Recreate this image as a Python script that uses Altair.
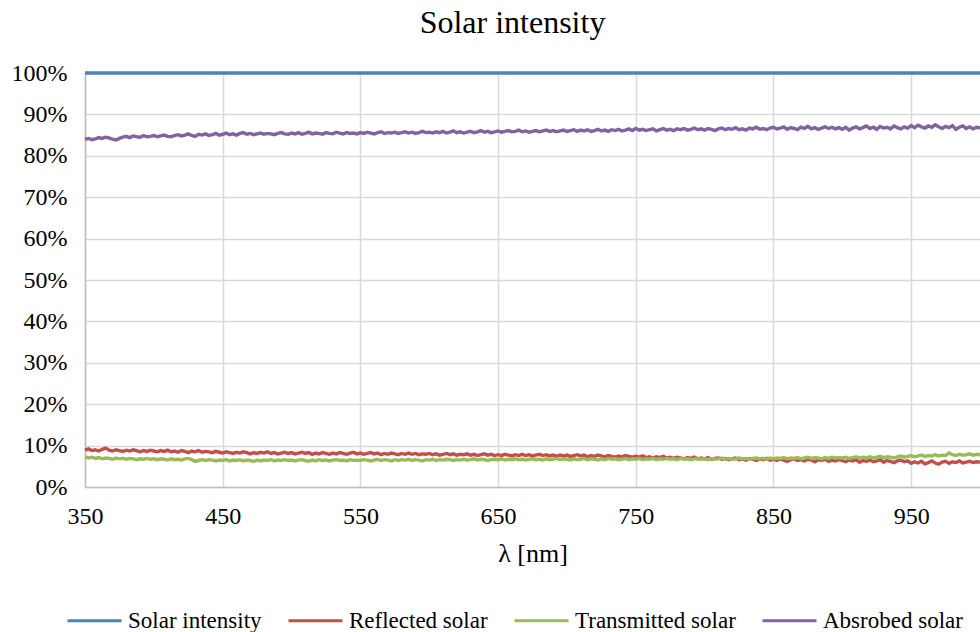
import altair as alt
import pandas as pd

# ---------------- data (every 2.5 nm) ----------------
wavelength = [350 + 2.5 * i for i in range(261)]

solar = [100.0] * len(wavelength)

reflected = [
    8.9, 9.2, 8.8, 9.0, 8.7, 9.1, 9.4, 8.9, 8.7, 9.0, 8.8, 8.6, 8.9, 8.7, 9.0, 8.8, 8.5, 8.8, 8.6, 8.9,
    8.7, 8.5, 8.8, 8.6, 8.9, 8.5, 8.7, 8.4, 8.8, 8.6, 8.3, 8.7, 8.5, 8.8, 8.4, 8.6, 8.5, 8.3, 8.6, 8.4,
    8.2, 8.5, 8.3, 8.1, 8.4, 8.2, 8.5, 8.3, 8.0, 8.3, 8.1, 8.4, 8.2, 8.5, 8.1, 8.3, 8.0, 8.2, 8.4, 8.1,
    8.3, 8.0, 8.2, 8.4, 8.1, 8.3, 7.9, 8.2, 8.0, 8.3, 8.1, 7.9, 8.2, 8.0, 8.3, 8.1, 7.9, 8.2, 8.4, 8.0,
    8.2, 7.9, 8.1, 8.3, 8.0, 8.2, 7.8, 8.1, 7.9, 8.2, 8.0, 7.8, 8.1, 7.9, 8.2, 7.9, 8.1, 7.8, 8.0, 7.9,
    8.1, 7.8, 8.0, 7.7, 7.9, 8.1, 7.8, 8.0, 7.7, 7.9, 7.8, 8.0, 7.7, 7.9, 7.6, 7.8, 8.0, 7.7, 7.9, 7.6,
    7.8, 7.6, 7.9, 7.7, 7.5, 7.8, 7.6, 7.9, 7.6, 7.8, 7.5, 7.7, 7.9, 7.6, 7.8, 7.5, 7.7, 7.4, 7.7, 7.5,
    7.7, 7.4, 7.6, 7.8, 7.5, 7.7, 7.3, 7.6, 7.4, 7.7, 7.5, 7.3, 7.6, 7.4, 7.2, 7.5, 7.3, 7.6, 7.4, 7.2,
    7.4, 7.2, 7.5, 7.1, 7.3, 7.0, 7.3, 7.1, 7.4, 7.0, 7.2, 6.9, 7.2, 7.0, 6.8, 7.1, 6.9, 7.2, 6.8, 7.0,
    6.8, 7.1, 6.7, 6.9, 7.0, 6.7, 6.9, 6.6, 6.8, 7.0, 6.6, 6.8, 6.5, 6.9, 6.7, 6.4, 6.8, 6.6, 6.9, 6.5,
    6.7, 6.4, 6.8, 6.5, 6.2, 6.6, 6.8, 6.4, 6.6, 6.3, 6.7, 6.5, 6.1, 6.6, 6.4, 6.7, 6.2, 6.5, 6.3, 6.6,
    6.4, 6.1, 6.5, 6.3, 6.6, 6.0, 6.4, 6.2, 6.5, 6.1, 6.3, 6.6, 6.0, 6.4, 6.2, 5.9, 6.3, 6.5, 6.1, 6.3,
    5.7, 6.1, 5.8, 6.2, 5.6, 5.9, 6.3, 5.8, 5.5, 6.0, 6.2, 5.7, 6.1, 5.9, 6.3, 5.8, 6.0, 6.2, 5.9, 6.1,
    6.0,
]

transmitted = [
    7.3, 7.0, 7.2, 6.9, 7.1, 6.8, 7.0, 6.9, 6.7, 7.0, 6.8, 6.9, 6.7, 6.9, 6.8, 6.6, 6.8, 6.7, 6.9, 6.7,
    6.8, 6.6, 6.8, 6.7, 6.5, 6.8, 6.6, 6.7, 6.5, 6.8, 6.9, 6.6, 6.2, 6.4, 6.6, 6.4, 6.6, 6.5, 6.3, 6.5,
    6.4, 6.6, 6.3, 6.5, 6.4, 6.6, 6.3, 6.5, 6.4, 6.2, 6.5, 6.3, 6.5, 6.4, 6.6, 6.3, 6.5, 6.4, 6.6, 6.4,
    6.5, 6.3, 6.5, 6.6, 6.4, 6.2, 6.5, 6.3, 6.6, 6.4, 6.5, 6.3, 6.5, 6.6, 6.4, 6.5, 6.3, 6.6, 6.4, 6.5,
    6.4, 6.6, 6.5, 6.3, 6.5, 6.7, 6.4, 6.6, 6.5, 6.3, 6.6, 6.4, 6.6, 6.5, 6.7, 6.4, 6.6, 6.5, 6.3, 6.6,
    6.5, 6.7, 6.4, 6.6, 6.5, 6.7, 6.6, 6.4, 6.6, 6.5, 6.7, 6.5, 6.6, 6.8, 6.5, 6.7, 6.6, 6.4, 6.6, 6.7,
    6.6, 6.8, 6.5, 6.7, 6.6, 6.8, 6.6, 6.7, 6.5, 6.7, 6.8, 6.6, 6.7, 6.5, 6.8, 6.6, 6.7, 6.9, 6.6, 6.8,
    6.7, 6.5, 6.8, 6.6, 6.7, 6.9, 6.6, 6.8, 6.7, 6.5, 6.8, 6.6, 6.9, 6.7, 6.8, 6.6, 6.7, 6.9, 6.6, 6.8,
    6.7, 6.9, 6.6, 6.8, 6.7, 6.9, 6.6, 6.8, 6.7, 6.9, 6.7, 6.8, 6.6, 6.9, 6.7, 6.8, 6.6, 6.8, 6.9, 6.7,
    6.8, 6.6, 6.9, 6.7, 6.8, 7.0, 6.7, 6.9, 6.7, 6.8, 7.0, 6.8, 6.9, 6.7, 6.9, 7.0, 6.8, 6.9, 6.7, 7.0,
    6.8, 7.0, 6.9, 7.1, 6.8, 7.0, 6.9, 7.1, 6.8, 7.0, 7.2, 6.9, 7.1, 7.0, 6.8, 7.1, 6.9, 7.2, 7.0, 7.1,
    7.0, 7.2, 6.9, 7.1, 7.3, 7.0, 7.2, 7.1, 7.3, 7.0, 7.2, 7.4, 7.1, 7.3, 7.2, 7.0, 7.3, 7.5, 7.2, 7.4,
    7.6, 7.3, 7.5, 7.7, 7.4, 7.6, 7.5, 7.8, 7.5, 7.7, 7.6, 8.2, 7.8, 7.6, 7.9, 7.7, 7.8, 8.0, 7.7, 7.9,
    7.8,
]

absorbed = [
    84.0, 84.2, 83.9, 84.1, 84.4, 84.2, 84.5, 84.3, 84.0, 83.8, 84.2, 84.5, 84.7, 84.4, 84.8, 84.6, 84.5, 84.9, 84.6, 84.7,
    84.9, 84.6, 84.8, 85.0, 84.7, 84.6, 84.9, 85.1, 84.8, 85.0, 85.3, 84.9, 84.7, 85.2, 85.0, 85.3, 84.9, 85.1, 85.4, 85.0,
    85.2, 85.5, 85.1, 85.3, 85.0, 85.4, 85.6, 85.2, 85.4, 85.1, 85.3, 85.5, 85.2, 85.4, 85.3, 85.1, 85.4, 85.6, 85.3, 85.2,
    85.5, 85.3, 85.6, 85.2, 85.4, 85.7, 85.3, 85.5, 85.4, 85.2, 85.6, 85.4, 85.3, 85.7, 85.5, 85.3, 85.6, 85.4, 85.5, 85.3,
    85.6, 85.4, 85.7, 85.5, 85.3, 85.6, 85.8, 85.4, 85.6, 85.5, 85.7, 85.4, 85.6, 85.8, 85.5, 85.7, 85.4, 85.6, 85.9, 85.6,
    85.7, 85.5, 85.8, 85.6, 85.9, 85.5, 85.7, 86.0, 85.6, 85.8, 85.5, 85.7, 85.9, 85.6, 85.8, 86.1, 85.7, 85.9, 85.6, 85.8,
    86.0, 85.7, 85.9, 86.1, 85.8, 85.9, 86.2, 85.8, 86.0, 85.7, 85.9, 86.1, 85.8, 86.0, 86.2, 85.9, 86.1, 85.8, 86.0, 86.2,
    85.9, 86.1, 86.3, 85.9, 86.2, 86.0, 86.3, 85.9, 86.1, 86.4, 86.0, 86.2, 85.9, 86.3, 86.1, 86.4, 86.0, 86.2, 86.5, 86.1,
    86.6, 86.2, 86.4, 86.1, 86.3, 86.5, 86.0, 86.3, 86.6, 86.2, 86.4, 86.1, 86.5, 86.3, 86.6, 86.2, 86.4, 86.7, 86.3, 86.5,
    86.2, 86.6, 86.4, 86.1, 86.5, 86.7, 86.3, 86.6, 86.4, 86.8, 86.3, 86.5, 86.2, 86.7, 86.5, 86.9, 86.4, 86.6, 86.3, 86.7,
    86.9, 86.5, 86.7, 87.0, 86.4, 86.8, 86.6, 86.3, 86.9, 86.6, 87.1, 86.5, 86.8, 86.4, 86.7, 87.0, 86.6, 86.9, 86.5, 86.8,
    86.4, 86.9, 86.2, 86.7, 87.0, 86.5, 86.8, 87.2, 86.6, 86.9, 86.4, 87.1, 86.7, 86.9, 86.5, 87.2, 86.8, 86.5, 87.0, 86.7,
    87.3, 86.8, 87.4, 87.0, 86.7, 87.2, 86.9, 87.5, 87.0, 86.6, 87.1, 86.8, 87.3, 86.4, 86.9, 87.2, 86.6, 87.0, 86.5, 86.9,
    86.7,
]

series_names = ["Solar intensity", "Reflected solar", "Transmitted solar", "Absrobed solar"]
series_colors = ["#4F81BD", "#C0504D", "#9BBB59", "#8064A2"]
x_ticks = [350, 450, 550, 650, 750, 850, 950]
y_ticks = [0, 10, 20, 30, 40, 50, 60, 70, 80, 90, 100]

rows = []
for name, vals in zip(series_names, [solar, reflected, transmitted, absorbed]):
    for w, v in zip(wavelength, vals):
        rows.append({"wl": w, "pct": v, "series": name})
df = pd.DataFrame(rows)

FONT = "Liberation Serif"

chart = (
    alt.Chart(df)
    .mark_line(strokeWidth=3.4, clip=False)
    .encode(
        x=alt.X(
            "wl:Q",
            scale=alt.Scale(domain=[350, 1000], nice=False, zero=False),
            axis=alt.Axis(
                values=x_ticks,
                title="λ [nm]",
                titleFont=FONT,
                titleFontSize=26,
                titleFontWeight="normal",
                titleColor="#000000",
                titlePadding=12,
                labelFont=FONT,
                labelFontSize=24,
                labelColor="#000000",
                labelPadding=17,
                ticks=False,
                tickSize=0,
                grid=True,
                gridColor="#d9d9d9",
                gridWidth=1.5,
                domainColor="#bfbfbf",
                domainWidth=1.5,
                labelFlush=False,
            ),
        ),
        y=alt.Y(
            "pct:Q",
            scale=alt.Scale(domain=[0, 100], nice=False),
            axis=alt.Axis(
                values=y_ticks,
                labelExpr="datum.value + '%'",
                title=None,
                labelFont=FONT,
                labelFontSize=24,
                labelColor="#000000",
                labelPadding=18,
                ticks=False,
                tickSize=0,
                grid=True,
                gridColor="#d9d9d9",
                gridWidth=1.5,
                domainColor="#bfbfbf",
                domainWidth=1.5,
                labelFlush=False,
            ),
        ),
        color=alt.Color(
            "series:N",
            sort=series_names,
            scale=alt.Scale(domain=series_names, range=series_colors),
            legend=alt.Legend(
                orient="none",
                legendX=-19,
                legendY=519,
                direction="horizontal",
                columns=4,
                title=None,
                symbolType="stroke",
                symbolSize=2916,
                symbolStrokeWidth=3,
                labelFont=FONT,
                labelFontSize=23,
                labelColor="#000000",
                labelOffset=5,
                columnPadding=20,
                padding=0,
                labelLimit=400,
            ),
        ),
    )
    .properties(
        width=895,
        height=414,
        title=alt.Title(
            "Solar intensity",
            font=FONT,
            fontSize=32,
            fontWeight="normal",
            color="#000000",
            anchor="middle",
            dx=-20,
            dy=-17,
        ),
        autosize="none",
        padding={"left": 85, "top": 73, "right": 0, "bottom": 145},
    )
    .configure_view(stroke=None)
    .configure(background="white")
)

chart.save("out.html", embed_options={"renderer": "svg", "actions": False})
